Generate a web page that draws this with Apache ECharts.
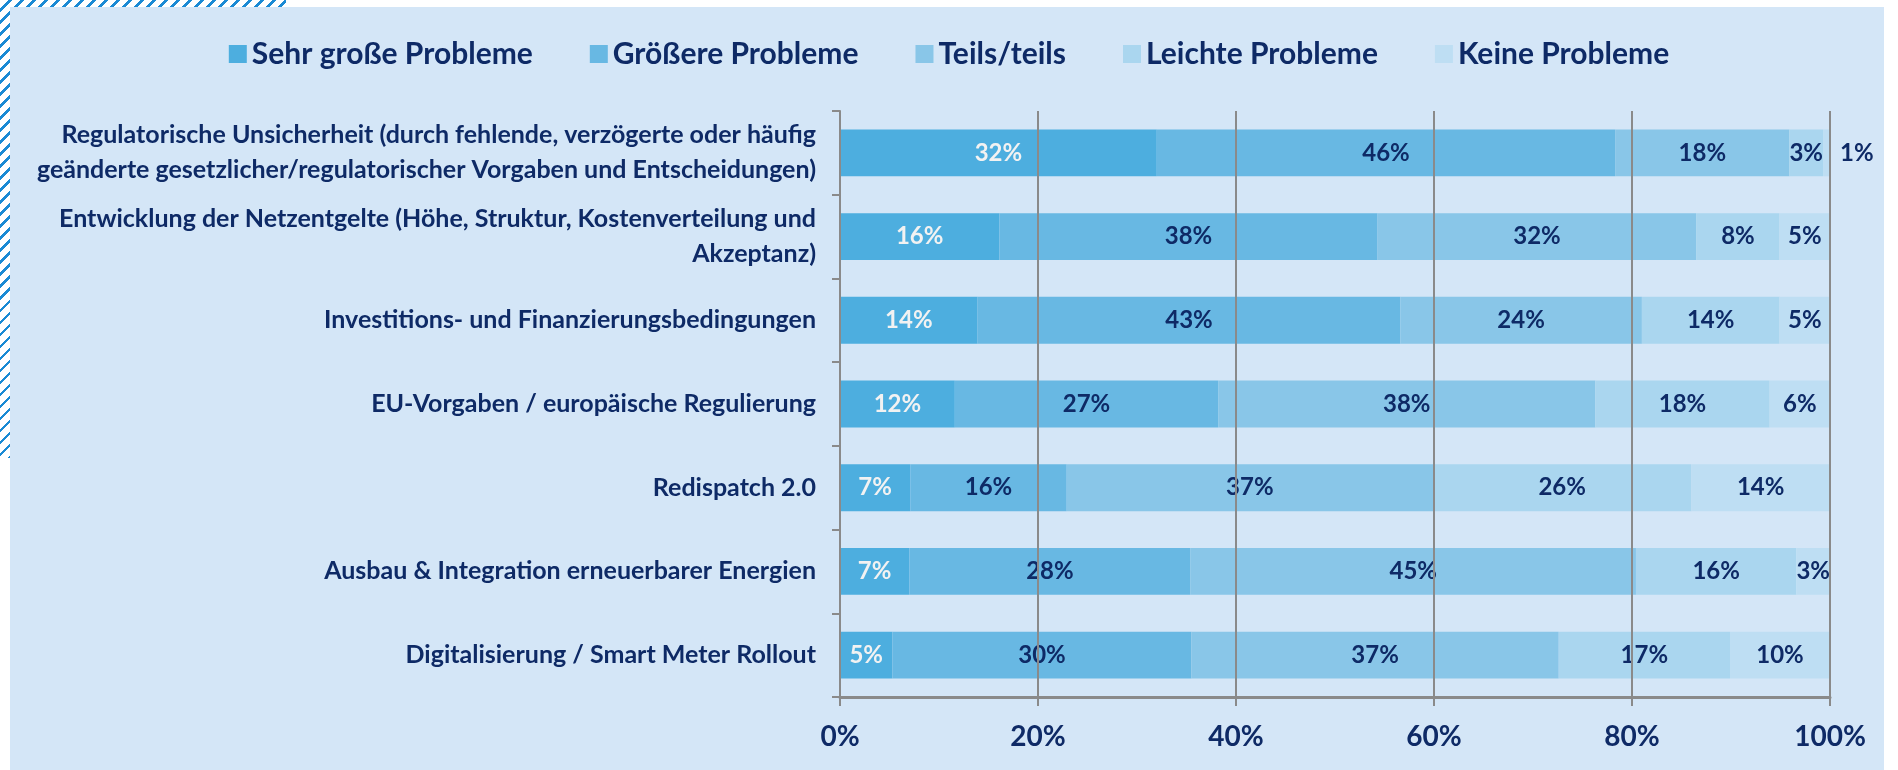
<!DOCTYPE html>
<html>
<head>
<meta charset="utf-8">
<script src="https://cdn.jsdelivr.net/npm/echarts@6/dist/echarts.min.js"></script>
<style>
  html, body { margin: 0; padding: 0; background: #fff; }
  #hatch {
    position: absolute; left: 0; top: 0; width: 286px; height: 458px;
    background: repeating-linear-gradient(135deg, #fff 0 6px, #1a8ad4 6px 8.5px);
  }
  #panel {
    position: absolute; left: 10px; top: 7px; width: 1874px; height: 763px;
    background: #d4e6f7;
  }
  #chart { position: absolute; left: 0; top: 0; width: 1898px; height: 770px; }
</style>
</head>
<body>
<div id="hatch"></div>
<div id="panel"></div>
<div id="chart"></div>
<script>
// gestapeltes Balkendiagramm, Anteile in %
const categories = [
  "Regulatorische Unsicherheit (durch fehlende, verzögerte oder häufig\ngeänderte gesetzlicher/regulatorischer Vorgaben und Entscheidungen)",
  "Entwicklung der Netzentgelte (Höhe, Struktur, Kostenverteilung und\nAkzeptanz)",
  "Investitions- und Finanzierungsbedingungen",
  "EU-Vorgaben / europäische Regulierung",
  "Redispatch 2.0",
  "Ausbau & Integration erneuerbarer Energien",
  "Digitalisierung / Smart Meter Rollout"
];
const seriesNames = ["Sehr große Probleme", "Größere Probleme", "Teils/teils", "Leichte Probleme", "Keine Probleme"];
const sehrGross = [32.0, 16.1, 13.9, 11.6, 7.1, 7.0, 5.3];
const groesser  = [46.3, 38.2, 42.7, 26.6, 15.8, 28.4, 30.2];
const teils     = [17.6, 32.2, 24.4, 38.1, 37.0, 45.0, 37.1];
const leicht    = [3.4, 8.4, 13.9, 17.6, 26.1, 16.2, 17.3];
const keine     = [0.7, 5.1, 5.1, 6.1, 14.0, 3.4, 10.1];

const navy = "#0e2a66";
const colors = ["#4daedf", "#68b8e3", "#89c6e8", "#aad6ef", "#bedef3"];
const font = "Lato, 'Open Sans', sans-serif";

const chart = echarts.init(document.getElementById("chart"));

function makeSeries(name, values, idx) {
  return {
    name: name,
    type: "bar",
    stack: "total",
    barWidth: "56%",
    itemStyle: { color: colors[idx] },
    label: {
      show: true,
      position: "inside",
      color: idx === 0 ? "#f2f2f2" : navy,
      fontFamily: font,
      fontWeight: "bold",
      fontSize: 24,
      formatter: p => Math.round(p.value) + "%"
    },
    // sehr kleine Werte: Beschriftung rechts neben dem Balken
    data: values.map(v => v < 2 ? { value: v, label: { position: "right", distance: 10 } } : v)
  };
}

const option = {
  animation: false,
  color: colors,
  legend: {
    left: "center",
    top: 34,
    itemWidth: 18,
    itemHeight: 18,
    itemGap: 57,
    icon: "rect",
    data: seriesNames,
    textStyle: { color: navy, fontFamily: font, fontWeight: "bold", fontSize: 30 }
  },
  grid: { left: 840, right: 68, top: 111, bottom: 73 },
  xAxis: {
    type: "value",
    min: 0,
    max: 100,
    interval: 20,
    z: 3,
    axisLine: { show: true, lineStyle: { color: "#8a8a8a", width: 3 } },
    axisTick: { show: true, length: 9, lineStyle: { color: "#8a8a8a", width: 2 } },
    splitLine: { show: true, lineStyle: { color: "#8a8a8a", width: 2 } },
    axisLabel: {
      formatter: "{value}%",
      margin: 26,
      color: navy,
      fontFamily: font,
      fontWeight: "bold",
      fontSize: 28
    }
  },
  yAxis: {
    type: "category",
    inverse: true,
    data: categories,
    z: 3,
    axisLine: { show: true, lineStyle: { color: "#8a8a8a", width: 2 } },
    axisTick: { show: true, length: 8, lineStyle: { color: "#8a8a8a", width: 2 } },
    axisLabel: {
      margin: 24,
      color: navy,
      fontFamily: font,
      fontWeight: "bold",
      fontSize: 25,
      lineHeight: 35,
      align: "right"
    }
  },
  series: [
    makeSeries(seriesNames[0], sehrGross, 0),
    makeSeries(seriesNames[1], groesser, 1),
    makeSeries(seriesNames[2], teils, 2),
    makeSeries(seriesNames[3], leicht, 3),
    makeSeries(seriesNames[4], keine, 4)
  ]
};

chart.setOption(option);
</script>
</body>
</html>
